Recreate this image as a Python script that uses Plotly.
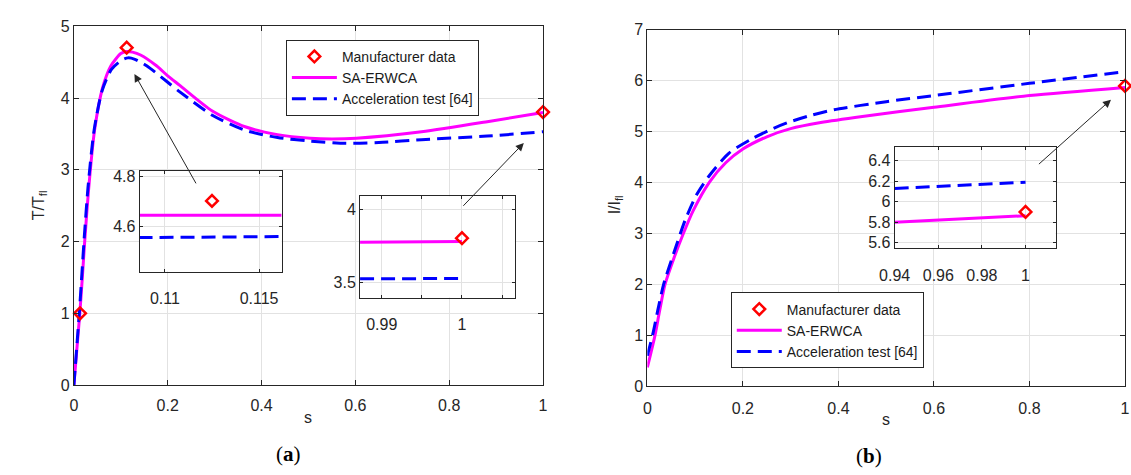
import plotly.graph_objects as go

# ---------------- data ----------------
# (a) torque ratio vs slip
s_T_sa = [0, 0.0063, 0.0126, 0.018, 0.023, 0.031, 0.044, 0.061, 0.079, 0.10, 0.112,
          0.125, 0.142, 0.176, 0.20, 0.225, 0.295, 0.365, 0.434, 0.504, 0.55, 0.602,
          0.741, 0.881, 1.0]
T_sa = [0, 0.5, 1.0, 1.5, 2.0, 2.7, 3.55, 4.14, 4.45, 4.62, 4.65,
        4.64, 4.60, 4.45, 4.31, 4.18, 3.82, 3.60, 3.49, 3.44, 3.43, 3.44,
        3.53, 3.67, 3.80]

s_T_acc = [0, 0.006, 0.012, 0.017, 0.022, 0.030, 0.043, 0.060, 0.080, 0.100, 0.115,
           0.130, 0.155, 0.200, 0.225, 0.295, 0.365, 0.434, 0.504, 0.580, 0.650,
           0.741, 0.881, 1.0]
T_acc = [0, 0.52, 1.05, 1.55, 2.05, 2.75, 3.55, 4.10, 4.40, 4.52, 4.56,
         4.54, 4.45, 4.22, 4.09, 3.76, 3.55, 3.45, 3.40, 3.37, 3.38,
         3.42, 3.47, 3.53]

mfr_s_T = [0.013, 0.1125, 1.0]
mfr_T = [1.0, 4.703, 3.805]

# zoomed views of (a)
z1_s = [0.1086, 0.1124, 0.1162]
z1_sa = [4.645, 4.646, 4.645]
z1_acc = [4.556, 4.558, 4.560]
z2_s = [0.9873, 1.0]
z2_sa = [3.778, 3.782]
z2_acc = [3.526, 3.528]

# (b) current ratio vs slip
s_I_sa = [0, 0.016, 0.026, 0.037, 0.055, 0.0754, 0.096, 0.13, 0.164, 0.20, 0.25,
          0.30, 0.363, 0.45, 0.60, 0.80, 1.0]
I_sa = [0.37, 1.0, 1.5, 2.0, 2.5, 3.0, 3.45, 4.01, 4.39, 4.66, 4.90,
        5.06, 5.18, 5.30, 5.48, 5.71, 5.87]

s_I_acc = [0, 0.012, 0.022, 0.034, 0.058, 0.079, 0.103, 0.13, 0.171, 0.219, 0.26,
           0.294, 0.342, 0.39, 0.50, 0.60, 0.80, 1.0]
I_acc = [0.60, 1.05, 1.5, 2.0, 2.69, 3.26, 3.76, 4.14, 4.58, 4.86, 5.05,
         5.18, 5.32, 5.43, 5.59, 5.71, 5.95, 6.18]

mfr_s_I = [1.0]
mfr_I = [5.90]

# zoomed view of (b)
z3_s = [0.94, 1.0]
z3_sa = [5.80, 5.863]
z3_acc = [6.128, 6.19]

# tick labels
main_x_ticks = [0, 0.2, 0.4, 0.6, 0.8, 1]
main_x_text = ["0", "0.2", "0.4", "0.6", "0.8", "1"]
T_ticks = [0, 1, 2, 3, 4, 5]
I_ticks = [0, 1, 2, 3, 4, 5, 6, 7]
z1_x_ticks, z1_x_text = [0.11, 0.115], ["0.11", "0.115"]
z1_y_ticks, z1_y_text = [4.6, 4.8], ["4.6", "4.8"]
z2_x_ticks, z2_x_text = [0.99, 0.995, 1.0, 1.005], ["0.99", " ", "1", " "]
z2_y_ticks, z2_y_text = [3.5, 4.0], ["3.5", "4"]
z3_x_ticks, z3_x_text = [0.94, 0.96, 0.98, 1.0], ["0.94", "0.96", "0.98", "1"]
z3_y_ticks, z3_y_text = [5.6, 5.8, 6.0, 6.2, 6.4], ["5.6", "5.8", "6", "6.2", "6.4"]

# ---------------- layout helpers ----------------
W, H = 1131, 475
FONT = "Liberation Sans, Arial, sans-serif"
INK = "#262626"


def px_x(a, b):
    return [a / W, b / W]


def px_y(top, bottom):
    return [1 - bottom / H, 1 - top / H]


def axis(domain, anchor, rng, tickvals, ticktext=None, ticklen=5, standoff=None):
    d = dict(domain=domain, anchor=anchor, range=rng, tickvals=tickvals,
             showline=True, linecolor=INK, linewidth=1, mirror="ticks",
             ticks="inside", ticklen=ticklen, tickcolor=INK, tickwidth=1,
             showgrid=True, gridcolor="#e2e2e2", gridwidth=1, zeroline=False,
             tickfont=dict(family=FONT, size=16, color=INK), fixedrange=True)
    if ticktext is not None:
        d["ticktext"] = ticktext
    if standoff is not None:
        d["ticklabelstandoff"] = standoff
    return d


MAG = "#FF00FF"
BLU = "#0000FF"
RED = "#FF0000"
DASH = "14px,7px"

fig = go.Figure()


def add_set(xa, ya, s_sa, v_sa, s_acc, v_acc, ms, mv, legend, show, spline=True):
    shape = "spline" if spline else "linear"
    fig.add_trace(go.Scatter(x=s_sa, y=v_sa, mode="lines", name="SA-ERWCA",
                             line=dict(color=MAG, width=3, shape=shape, smoothing=0.7),
                             xaxis=xa, yaxis=ya, legend=legend, showlegend=show,
                             legendrank=2, hoverinfo="skip"))
    fig.add_trace(go.Scatter(x=s_acc, y=v_acc, mode="lines", name="Acceleration test [64]",
                             line=dict(color=BLU, width=3, dash=DASH, shape=shape, smoothing=0.7),
                             xaxis=xa, yaxis=ya, legend=legend, showlegend=show,
                             legendrank=3, hoverinfo="skip"))
    fig.add_trace(go.Scatter(x=ms, y=mv, mode="markers", name="Manufacturer data",
                             marker=dict(symbol="diamond-open", size=9, color=RED,
                                         line=dict(color=RED, width=2.5)),
                             cliponaxis=False, xaxis=xa, yaxis=ya, legend=legend,
                             showlegend=show, legendrank=1, hoverinfo="skip"))


# main (a)
add_set("x", "y", s_T_sa, T_sa, s_T_acc, T_acc, mfr_s_T, mfr_T, "legend", True)
# main (b)
add_set("x2", "y2", s_I_sa, I_sa, s_I_acc, I_acc, mfr_s_I, mfr_I, "legend2", True)
# insets
add_set("x3", "y3", z1_s, z1_sa, z1_s, z1_acc, mfr_s_T, mfr_T, "legend", False, spline=False)
add_set("x4", "y4", z2_s, z2_sa, z2_s, z2_acc, mfr_s_T, mfr_T, "legend", False, spline=False)
add_set("x5", "y5", z3_s, z3_sa, z3_s, z3_acc, mfr_s_I, mfr_I, "legend2", False, spline=False)

legend_common = dict(bgcolor="white", bordercolor=INK, borderwidth=1,
                     font=dict(family=FONT, size=14, color="#1a1a1a"),
                     xanchor="left", yanchor="top", itemwidth=45,
                     traceorder="normal", tracegroupgap=0)

fig.update_layout(
    width=W, height=H, margin=dict(l=0, r=0, t=0, b=0),
    plot_bgcolor="white", paper_bgcolor="white",
    xaxis=axis(px_x(59, 537), "y", [0, 1], main_x_ticks, main_x_text, standoff=6),
    yaxis=axis(px_y(19, 391), "x", [0, 5], T_ticks),
    xaxis2=axis(px_x(643.3, 1130), "y2", [0, 1], main_x_ticks, main_x_text, standoff=8),
    yaxis2=axis(px_y(22.7, 392.3), "x2", [0, 7], I_ticks),
    xaxis3=axis(px_x(126, 270.7), "y3", [0.10866, 0.1162], z1_x_ticks, z1_x_text, 3, standoff=12),
    yaxis3=axis(px_y(169, 273.3), "x3", [4.42, 4.823], z1_y_ticks, z1_y_text, 3),
    xaxis4=axis(px_x(350.5, 508.3), "y4", [0.98729, 1.00659], z2_x_ticks, z2_x_text, 3, standoff=12),
    yaxis4=axis(px_y(195.3, 300.3), "x4", [3.397, 4.093], z2_y_ticks, z2_y_text, 3),
    xaxis5=axis(px_x(895.3, 1059.3), "y5", [0.94, 1.0138], z3_x_ticks, z3_x_text, 3, standoff=12),
    yaxis5=axis(px_y(144, 249.3), "x5", [5.544, 6.535], z3_y_ticks, z3_y_text, 3),
    legend=dict(x=275 / W, y=1 - 33 / H, **legend_common),
    legend2=dict(x=728.3 / W, y=1 - 295 / H, **legend_common),
)

# arrows pointing from the insets to the zoomed regions
arrows = [
    dict(xref="x", yref="y", head=(0.129, 4.337), tail=(0.262, 2.79)),
    dict(xref="x", yref="y", head=(0.959, 3.374), tail=(0.827, 2.477)),
    dict(xref="x2", yref="y2", head=(0.9706, 5.63), tail=(0.8166, 4.337)),
]
for a in arrows:
    fig.add_annotation(x=a["head"][0], y=a["head"][1], ax=a["tail"][0], ay=a["tail"][1],
                       xref=a["xref"], yref=a["yref"], axref=a["xref"], ayref=a["yref"],
                       text="", showarrow=True, arrowhead=2, arrowsize=1.6,
                       arrowwidth=1, arrowcolor=INK)

# axis titles and panel labels
txt = dict(family=FONT, size=16, color=INK)
fig.add_annotation(x=24 / W, y=1 - 205 / H, xref="paper", yref="paper", text="T/T<sub>fl</sub>",
                   textangle=-90, showarrow=False, font=txt, xanchor="center", yanchor="middle")
fig.add_annotation(x=611 / W, y=1 - 204 / H, xref="paper", yref="paper", text="I/I<sub>fl</sub>",
                   textangle=-90, showarrow=False, font=txt, xanchor="center", yanchor="middle")
fig.add_annotation(x=298 / W, y=1 - 425 / H, xref="paper", yref="paper", text="s",
                   showarrow=False, font=txt, xanchor="center", yanchor="middle")
fig.add_annotation(x=886 / W, y=1 - 427 / H, xref="paper", yref="paper", text="s",
                   showarrow=False, font=txt, xanchor="center", yanchor="middle")
serif = dict(family="Liberation Serif, DejaVu Serif, serif", size=21, color="#000000")
fig.add_annotation(x=278 / W, y=1 - 463 / H, xref="paper", yref="paper", text="(<b>a</b>)",
                   showarrow=False, font=serif, xanchor="center", yanchor="middle")
fig.add_annotation(x=869.5 / W, y=1 - 465 / H, xref="paper", yref="paper", text="(<b>b</b>)",
                   showarrow=False, font=serif, xanchor="center", yanchor="middle")

fig.write_html("out.html", config={"displayModeBar": False},
               post_script="document.body.style.margin='0';document.body.style.overflow='hidden';")
